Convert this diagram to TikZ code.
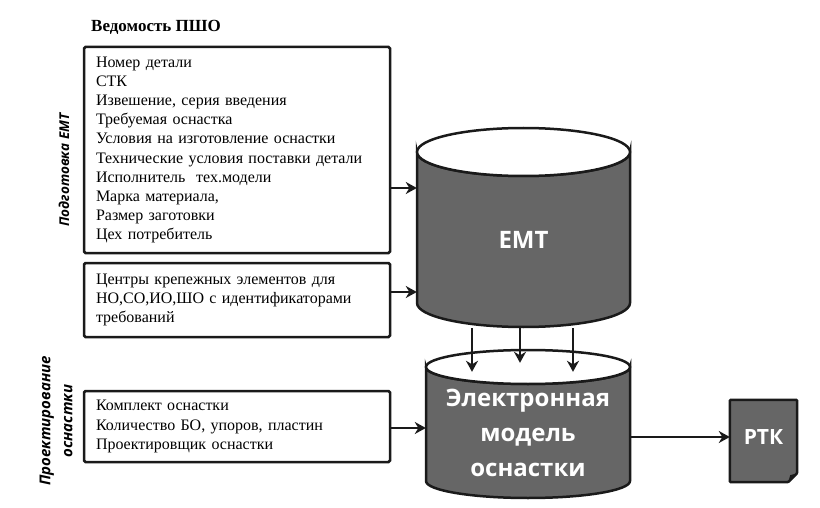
\documentclass[tikz,border=0pt]{standalone}
\usepackage{fontspec}
\setmainfont{Liberation Serif}
\setsansfont{Open Sans}
\usetikzlibrary{arrows.meta}

\definecolor{dbgray}{RGB}{102,102,102}
\definecolor{ink}{RGB}{26,26,26}

\tikzset{
  listbox/.style={draw=ink, line width=2.5pt, rounded corners=1.5pt,
    minimum width=306pt, text width=282pt, inner xsep=11pt, align=left,
    font=\fontsize{16}{19.2}\selectfont},
  arr/.style={draw=ink, line width=2pt, -{Stealth[length=11pt,width=12pt,inset=3.5pt]}},
  dbtext/.style={text=white, align=center, inner sep=0pt,
    font=\sffamily\bfseries\fontsize{24}{35}\selectfont},
  side/.style={rotate=90, align=center,
    font=\sffamily\bfseries\itshape\fontsize{13.5}{22}\selectfont},
}

\begin{document}
\begin{tikzpicture}[x=1pt,y=-1pt]
\useasboundingbox (0,0) rectangle (820,508);

% titles and side labels
\node (title) [font=\bfseries\fontsize{17}{19}\selectfont] at (156,27) {Ведомость ПШО};
\node (prep) [side] at (64,170) {Подготовка ЕМТ};
\node (design) [side, font=\sffamily\bfseries\itshape\fontsize{15}{22}\selectfont] at (56,421) {Проектирование\\оснастки};

% input lists
\node (box1) [listbox, minimum height=206pt] at (237,150) {Номер детали\\
СТК\\
Извешение, серия введения\\
Требуемая оснастка\\
Условия на изготовление оснастки\\
Технические условия поставки детали\\
Исполнитель~ тех.модели\\
Марка материала,\\
Размер заготовки\\
Цех потребитель};
\node (box2) [listbox, minimum height=74pt] at (237,300) {Центры крепежных элементов для\\
НО,СО,ИО,ШО с идентификаторами\\
требований};
\node (box3) [listbox, minimum height=71pt] at (237,426.5) {Комплект оснастки\\
Количество БО, упоров, пластин\\
Проектировщик оснастки};

% cylinders
\draw[draw=ink, line width=2.5pt, fill=dbgray] (417,152) -- (417,303)
  arc[start angle=180, end angle=0, x radius=106.5, y radius=24] -- (630,152)
  arc[start angle=0, end angle=180, x radius=106.5, y radius=24] -- cycle;
\draw[draw=ink, line width=2.5pt, fill=white] (523.5,152) ellipse [x radius=106.5, y radius=24];
\draw[draw=ink, line width=2.5pt, fill=dbgray] (426,367) -- (426,481)
  arc[start angle=180, end angle=0, x radius=102, y radius=17] -- (630,367)
  arc[start angle=0, end angle=180, x radius=102, y radius=17] -- cycle;
\draw[draw=ink, line width=2.5pt, fill=white] (528,367) ellipse [x radius=102, y radius=17];

\node (emt) [dbtext, minimum width=213pt, minimum height=176pt] at (523.5,240) {ЕМТ};
\node (model) [dbtext, minimum width=204pt, minimum height=122pt] at (528,433) {Электронная\\модель\\оснастки};

% output document
\node (rtk) [dbtext, minimum width=67pt, minimum height=82pt] at (763.5,441) {};
\draw[draw=ink, line width=2.5pt, fill=dbgray, rounded corners=1pt] (rtk.north west) -- (rtk.north east)
  -- ([yshift=9pt]rtk.south east) -- ([xshift=-9pt]rtk.south east) -- (rtk.south west) -- cycle;
\fill[ink] ([yshift=9pt]rtk.south east) -- ([xshift=-9pt]rtk.south east) -- ([xshift=-7pt,yshift=7pt]rtk.south east) -- cycle;
\node [dbtext, font=\sffamily\bfseries\fontsize{21}{24}\selectfont] at ([yshift=4pt]rtk.center) {РТК};

% connectors
\draw[arr] ([yshift=-38pt]box1.east) -- ([yshift=-38pt]box1.east -| emt.west);
\draw[arr] ([yshift=8pt]box2.east) -- ([yshift=8pt]box2.east -| emt.west);
\draw[arr] ([yshift=-1.5pt]box3.east) -- ([yshift=-1.5pt]box3.east -| model.west);
\draw[arr] ([xshift=-51.5pt]emt.south) -- ([xshift=-51.5pt]emt.south |- model.north);
\draw[arr] ([xshift=-3.5pt]emt.south) -- ([xshift=-3.5pt,yshift=9pt]emt.south |- model.north);
\draw[arr] ([xshift=49.5pt]emt.south) -- ([xshift=49.5pt]emt.south |- model.north);
\draw[arr] ([yshift=-4pt]model.east) -- ([yshift=-4pt]model.east -| rtk.west);
\end{tikzpicture}
\end{document}
